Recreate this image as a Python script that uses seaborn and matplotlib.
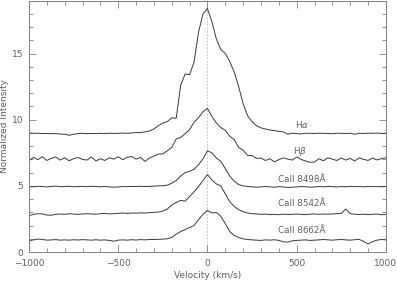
import numpy as np
import pandas as pd
import matplotlib
matplotlib.use("Agg")
import matplotlib.pyplot as plt
from matplotlib.ticker import MultipleLocator
import seaborn as sns

# velocity grid (km/s)
velocity = np.arange(-1000, 1001, 25)

h_alpha = [9.00, 8.97, 8.98, 8.95, 8.96, 8.94, 8.95, 8.92, 8.90, 8.82,
           8.90, 8.95, 8.97, 8.94, 8.96, 8.95, 8.97, 8.95, 8.98, 8.96,
           8.97, 8.99, 8.97, 9.00, 9.03, 9.02, 9.08, 9.15, 9.30, 9.55,
           9.75, 9.85, 10.15, 10.10, 12.60, 13.45, 13.40, 14.35, 16.60, 18.00,
           18.40, 17.40, 16.10, 15.30, 15.00, 14.40, 13.60, 12.50, 11.20, 10.30,
           9.85, 9.55, 9.38, 9.30, 9.22, 9.18, 9.12, 9.08, 8.90, 8.98,
           8.95, 8.92, 8.98, 8.97, 8.95, 8.98, 8.97, 8.96, 8.94, 8.98,
           8.97, 8.95, 8.98, 8.90, 8.97, 8.96, 8.98, 8.97, 8.99, 8.96, 8.97]

h_beta = [6.90, 7.15, 6.98, 7.20, 6.92, 7.08, 7.18, 6.95, 7.12, 6.90,
          7.05, 7.15, 7.00, 6.95, 7.18, 6.88, 7.05, 6.92, 7.12, 7.02,
          7.20, 6.98, 7.15, 7.22, 7.02, 7.15, 6.85, 7.10, 7.25, 7.40,
          7.42, 7.65, 7.90, 8.55, 8.65, 8.95, 9.25, 9.80, 10.15, 10.60,
          10.85, 10.25, 9.75, 9.40, 9.20, 8.75, 8.50, 7.90, 7.70, 7.30,
          7.28, 7.08, 7.10, 6.92, 7.05, 6.82, 6.98, 7.12, 7.02, 6.95,
          7.18, 7.00, 6.88, 6.78, 6.80, 7.05, 6.90, 7.12, 7.02, 6.92,
          7.10, 6.95, 7.08, 6.88, 7.12, 7.00, 6.92, 7.10, 6.96, 7.06, 7.12]

ca_8498 = [4.95, 4.93, 4.97, 4.95, 4.92, 4.96, 4.98, 4.94, 4.95, 4.97,
           4.93, 4.95, 4.96, 4.94, 4.97, 4.95, 4.93, 4.96, 4.92, 4.90,
           4.92, 4.95, 4.94, 4.96, 4.95, 4.97, 4.95, 4.96, 4.98, 5.00,
           5.02, 5.05, 5.20, 5.40, 5.75, 6.00, 6.10, 6.25, 6.60, 7.05,
           7.65, 7.50, 7.10, 6.85, 6.30, 5.75, 5.35, 5.10, 5.00, 4.95,
           4.93, 4.90, 4.92, 4.95, 4.93, 4.90, 4.94, 4.92, 4.88, 4.90,
           4.92, 4.95, 4.93, 4.90, 4.92, 4.95, 4.93, 4.96, 4.94, 4.92,
           4.95, 4.93, 4.96, 4.94, 4.95, 4.93, 4.96, 4.94, 4.95, 4.93, 4.95]

ca_8542 = [2.75, 2.85, 2.90, 2.88, 2.80, 2.78, 2.85, 2.88, 2.85, 2.90,
           2.87, 2.85, 2.88, 2.90, 2.88, 2.86, 2.90, 2.92, 2.88, 2.90,
           2.92, 2.95, 2.92, 2.95, 2.94, 2.96, 2.95, 2.98, 3.00, 3.02,
           3.10, 3.25, 3.55, 3.75, 3.90, 3.85, 4.20, 4.55, 4.95, 5.40,
           5.85, 5.45, 5.15, 5.00, 4.40, 3.80, 3.45, 3.20, 3.05, 2.95,
           2.90, 2.88, 2.85, 2.87, 2.83, 2.85, 2.82, 2.86, 2.84, 2.85,
           2.87, 2.85, 2.83, 2.86, 2.88, 2.85, 2.87, 2.86, 2.88, 2.90,
           2.92, 3.25, 2.90, 2.86, 2.84, 2.86, 2.83, 2.85, 2.87, 2.82, 2.85]

ca_8662 = [0.85, 0.92, 0.98, 0.95, 0.90, 0.92, 0.94, 0.90, 0.92, 0.90,
           0.93, 0.91, 0.94, 0.92, 0.90, 0.93, 0.90, 0.92, 0.88, 0.82,
           0.90, 0.92, 0.90, 0.93, 0.91, 0.94, 0.92, 0.95, 0.95, 0.96,
           0.98, 1.00, 1.10, 1.35, 1.55, 1.70, 1.85, 2.00, 2.45, 2.85,
           3.15, 2.95, 3.00, 2.70, 2.15, 1.55, 1.25, 1.10, 1.00, 0.95,
           0.92, 0.90, 0.88, 0.92, 0.90, 0.93, 0.88, 0.78, 0.75, 0.85,
           0.88, 0.90, 0.92, 0.88, 0.90, 0.92, 0.95, 0.92, 0.90, 0.93,
           0.95, 0.92, 0.90, 0.93, 0.96, 0.80, 0.62, 0.78, 0.90, 0.95, 0.92]

series_names = ["H$\\alpha$", "H$\\beta$", "CaII 8498Å", "CaII 8542Å", "CaII 8662Å"]
series_values = [h_alpha, h_beta, ca_8498, ca_8542, ca_8662]
label_pos = [(530, 9.6), (520, 7.6), (530, 5.5), (530, 3.65), (530, 1.65)]

x_ticks = [-1000, -500, 0, 500, 1000]
y_ticks = [0, 5, 10, 15]

sns.set_style("ticks")
plt.rcParams['font.family'] = ['DejaVu Sans']

fig = plt.figure(figsize=(3.97, 2.81), dpi=100)
ax = fig.add_axes([0.073, 0.103, 0.899, 0.895])

line_color = "#3a3a3a"
grey = "#808080"
text_grey = "#606060"

ax.axvline(0, color="#b8b8b8", lw=0.6, ls=(0, (2, 2)), zorder=0)

frames = []
for name, vals in zip(series_names, series_values):
    frames.append(pd.DataFrame({"v": velocity, "I": vals, "line": name}))
df = pd.concat(frames, ignore_index=True)
for name in series_names:
    sub = df[df["line"] == name]
    sns.lineplot(data=sub, x="v", y="I", ax=ax, color=line_color, lw=0.7,
                 estimator=None, sort=False, legend=False)

for name, (px, py) in zip(series_names, label_pos):
    ax.text(px, py, name, ha="center", va="center", fontsize=6.3, color=text_grey)

ax.set_xlim(-1000, 1000)
ax.set_ylim(0, 19)
ax.set_xticks(x_ticks)
ax.set_yticks(y_ticks)
ax.set_xticklabels(["\u22121000", "\u2212500", "0", "500", "1000"])
ax.xaxis.set_minor_locator(MultipleLocator(100))
ax.yaxis.set_minor_locator(MultipleLocator(1))
ax.tick_params(which="both", direction="in", top=True, right=True,
               color=grey, width=0.6, labelsize=6.5, labelcolor=text_grey)
ax.tick_params(axis="x", which="major", pad=5)
ax.tick_params(axis="y", which="major", pad=4)
ax.tick_params(which="major", length=5)
ax.tick_params(which="minor", length=3)
for s in ax.spines.values():
    s.set_color(grey)
    s.set_linewidth(0.7)

ax.set_xlabel("Velocity (km/s)", fontsize=6.5, color=text_grey)
ax.set_ylabel("Normalized Intensity", fontsize=6.5, color=text_grey)
ax.xaxis.set_label_coords(0.5, -0.075)
ax.yaxis.set_label_coords(-0.056, 0.5)

fig.savefig("out.png", dpi=100)
